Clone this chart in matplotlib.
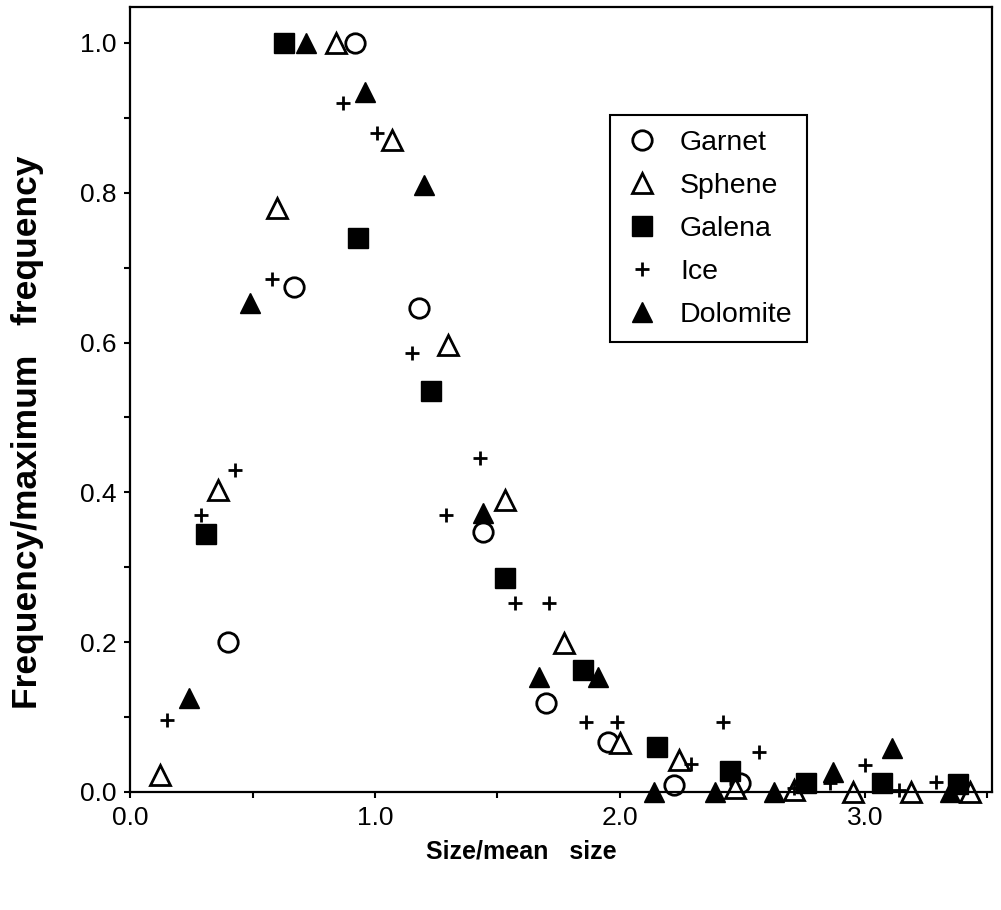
import matplotlib
matplotlib.use("Agg")
import matplotlib.pyplot as plt
from matplotlib.ticker import MultipleLocator, FormatStrFormatter

plt.rcParams['font.family'] = ['Liberation Sans', 'DejaVu Sans']

# values
garnet_x = [0.92, 0.67, 1.18, 1.44, 0.40, 1.70, 1.95, 2.22, 2.49]
garnet_y = [1.00, 0.674, 0.646, 0.347, 0.20, 0.119, 0.067, 0.009, 0.012]

sphene_x = [0.84, 1.07, 0.60, 1.30, 0.36, 1.53, 1.77, 2.00, 2.24, 2.47, 0.12,
            2.71, 2.95, 3.19, 3.43]
sphene_y = [1.00, 0.87, 0.78, 0.597, 0.403, 0.39, 0.199, 0.065, 0.043, 0.005,
            0.022, 0.003, 0.0, 0.0, 0.0]

galena_x = [0.63, 0.93, 1.23, 0.31, 1.53, 1.85, 2.15, 2.45, 2.76, 3.07, 3.38]
galena_y = [1.00, 0.74, 0.535, 0.345, 0.286, 0.163, 0.06, 0.028, 0.012, 0.012,
            0.01]

ice_x = [0.87, 1.01, 0.58, 1.15, 1.43, 1.29, 0.43, 0.29, 0.15, 1.57, 1.71,
         1.86, 1.99, 2.29, 2.42, 2.57, 2.71, 2.86, 3.00, 3.14, 3.29]
ice_y = [0.92, 0.88, 0.685, 0.586, 0.446, 0.37, 0.43, 0.37, 0.096, 0.252,
         0.252, 0.093, 0.093, 0.037, 0.093, 0.054, 0.005, 0.012, 0.036, 0.003,
         0.013]

dolomite_x = [0.72, 0.96, 1.20, 0.49, 1.44, 0.24, 1.67, 1.91, 2.14, 2.39,
              2.63, 2.87, 3.11, 3.35]
dolomite_y = [1.00, 0.935, 0.81, 0.653, 0.372, 0.125, 0.154, 0.154, 0.0, 0.0,
              0.0, 0.027, 0.059, 0.0]

fig = plt.figure(figsize=(10.01, 9.10), dpi=100)
ax = fig.add_axes([0.130, 0.1297, 0.8611, 0.8626])

kw = dict(linestyle='none', clip_on=False, markeredgecolor='black')
ax.plot(garnet_x, garnet_y, marker='o', ms=14, mew=2, mfc='white',
        label='Garnet', **kw)
ax.plot(sphene_x, sphene_y, marker='^', ms=14, mew=2, mfc='white',
        label='Sphene', **kw)
ax.plot(galena_x, galena_y, marker='s', ms=14, mew=1, mfc='black',
        label='Galena', **kw)
ax.plot(ice_x, ice_y, marker='+', ms=10, mew=2, color='black',
        label='Ice', **kw)
ax.plot(dolomite_x, dolomite_y, marker='^', ms=14, mew=1, mfc='black',
        label='Dolomite', **kw)

ax.set_xlim(0, 3.52)
ax.set_ylim(0, 1.048)

ax.xaxis.set_major_locator(MultipleLocator(1.0))
ax.xaxis.set_minor_locator(MultipleLocator(0.5))
ax.yaxis.set_major_locator(MultipleLocator(0.2))
ax.yaxis.set_minor_locator(MultipleLocator(0.1))
ax.xaxis.set_major_formatter(FormatStrFormatter('%.1f'))
ax.yaxis.set_major_formatter(FormatStrFormatter('%.1f'))

ax.tick_params(which='both', direction='out', length=4, width=1.5,
               top=False, right=False)
ax.tick_params(which='major', labelsize=19, pad=6)
ax.tick_params(axis='x', which='major', pad=6)
for s in ax.spines.values():
    s.set_linewidth(1.6)

ax.set_xlabel('Size/mean   size', fontsize=18, fontweight='bold',
              va='center')
ax.xaxis.set_label_coords(0.4536, -0.0764)
ax.set_ylabel('Frequency/maximum   frequency', fontsize=25.5,
              fontweight='bold', va='center')
ax.yaxis.set_label_coords(-0.119, 0.458)

leg = ax.legend(loc='upper left', bbox_to_anchor=(0.557, 0.862),
                fontsize=20.5, frameon=True, fancybox=False, shadow=False,
                borderaxespad=0, borderpad=0.5, labelspacing=0.6,
                handlelength=1.2, handletextpad=0.75, numpoints=1)
leg.get_frame().set_edgecolor('black')
leg.get_frame().set_linewidth(1.5)
leg.get_frame().set_alpha(1)

fig.savefig('out.png', dpi=100)
